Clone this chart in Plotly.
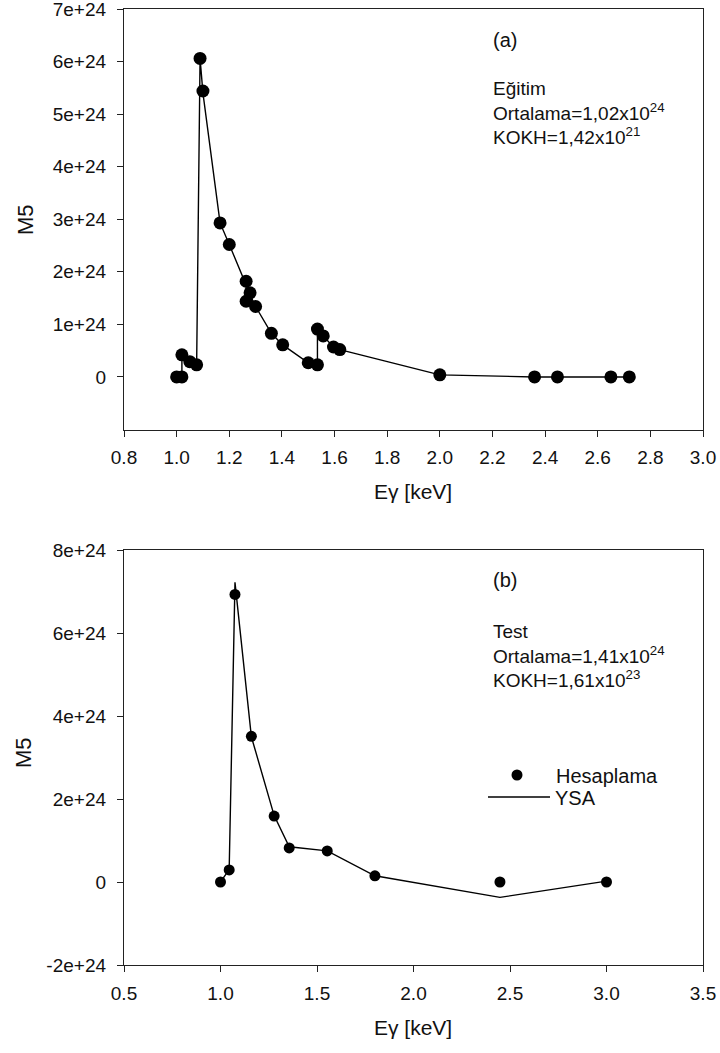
import plotly.graph_objects as go

# ---- Panel (a): Eğitim ----
a_x = [1.0, 1.02, 1.02, 1.05, 1.076, 1.089, 1.10, 1.165, 1.20, 1.264, 1.264, 1.279, 1.30,
       1.36, 1.403, 1.50, 1.535, 1.535, 1.557, 1.596, 1.62, 2.0, 2.36, 2.447, 2.65, 2.72]
a_hes = [0.0, 0.0, 0.42, 0.29, 0.23, 6.06, 5.44, 2.93, 2.52, 1.82, 1.44, 1.60, 1.34,
         0.83, 0.61, 0.27, 0.23, 0.91, 0.78, 0.57, 0.52, 0.04, 0.0, 0.0, 0.0, 0.0]
a_ysa = [0.0, 0.0, 0.40, 0.29, 0.23, 6.06, 5.40, 2.93, 2.52, 1.75, 1.50, 1.56, 1.34,
         0.83, 0.61, 0.27, 0.23, 0.91, 0.78, 0.57, 0.52, 0.04, 0.0, 0.0, 0.0, 0.0]

# ---- Panel (b): Test ----
b_x = [1.0, 1.045, 1.075, 1.16, 1.278, 1.356, 1.553, 1.80, 2.448, 3.0]
b_hes = [0.0, 0.29, 6.93, 3.51, 1.59, 0.82, 0.75, 0.15, 0.0, 0.0]
b_ysa = [0.0, 0.30, 7.22, 3.50, 1.60, 0.85, 0.75, 0.15, -0.37, 0.02]

SCALE = 1e24
a_yticks = [0, 1, 2, 3, 4, 5, 6, 7]
a_yticktext = ["0", "1e+24", "2e+24", "3e+24", "4e+24", "5e+24", "6e+24", "7e+24"]
b_yticks = [-2, 0, 2, 4, 6, 8]
b_yticktext = ["-2e+24", "0", "2e+24", "4e+24", "6e+24", "8e+24"]
a_xticks = [0.8, 1.0, 1.2, 1.4, 1.6, 1.8, 2.0, 2.2, 2.4, 2.6, 2.8, 3.0]
b_xticks = [0.5, 1.0, 1.5, 2.0, 2.5, 3.0, 3.5]

a_label = "(a)"
a_stats = ["Eğitim", "Ortalama=1,02x10<sup>24</sup>", "KOKH=1,42x10<sup>21</sup>"]
b_label = "(b)"
b_stats = ["Test", "Ortalama=1,41x10<sup>24</sup>", "KOKH=1,61x10<sup>23</sup>"]

W, H = 720, 1053
FONT = "Liberation Sans, Arial, sans-serif"

fig = go.Figure()

fig.add_trace(go.Scatter(x=a_x, y=[v * SCALE for v in a_ysa], mode="lines",
                         line=dict(color="black", width=1.4), showlegend=False,
                         xaxis="x", yaxis="y"))
fig.add_trace(go.Scatter(x=a_x, y=[v * SCALE for v in a_hes], mode="markers",
                         marker=dict(color="black", size=13), showlegend=False,
                         xaxis="x", yaxis="y"))
fig.add_trace(go.Scatter(x=b_x, y=[v * SCALE for v in b_hes], mode="markers",
                         marker=dict(color="black", size=11), name="Hesaplama",
                         xaxis="x2", yaxis="y2", legend="legend"))
fig.add_trace(go.Scatter(x=b_x, y=[v * SCALE for v in b_ysa], mode="lines",
                         line=dict(color="black", width=1.4), name="YSA",
                         xaxis="x2", yaxis="y2", legend="legend2"))

def px_x(p):
    return p / W

def px_y(p):
    return 1 - p / H

axis_common = dict(showline=True, linecolor="#222", linewidth=1.3, mirror=True,
                   ticks="outside", ticklen=6, tickcolor="#222", tickwidth=1.2,
                   showgrid=False, zeroline=False, automargin=False,
                   ticklabeloverflow="allow",
                   tickfont=dict(family=FONT, size=19, color="#111"))

leg_common = dict(bgcolor="rgba(0,0,0,0)", font=dict(family=FONT, size=20, color="#111"),
                  xanchor="left", yanchor="middle", tracegroupgap=0)

fig.update_layout(
    width=W, height=H,
    margin=dict(l=0, r=0, t=0, b=0, pad=0, autoexpand=False),
    paper_bgcolor="white", plot_bgcolor="white",
    font=dict(family=FONT, color="#111"),
    xaxis=dict(domain=[px_x(124), px_x(703)], range=[0.8, 3.0], anchor="y",
               tickvals=a_xticks, ticktext=[f"{v:.1f}" for v in a_xticks],
               ticklabelstandoff=5, **axis_common),
    yaxis=dict(domain=[px_y(429.5), px_y(9)], range=[-1 * SCALE, 7 * SCALE], anchor="x",
               tickvals=[v * SCALE for v in a_yticks], ticktext=a_yticktext,
               ticklabelstandoff=7, **axis_common),
    xaxis2=dict(domain=[px_x(124), px_x(703)], range=[0.5, 3.5], anchor="y2",
                tickvals=b_xticks, ticktext=[f"{v:.1f}" for v in b_xticks],
                ticklabelstandoff=5, **axis_common),
    yaxis2=dict(domain=[px_y(965), px_y(550)], range=[-2 * SCALE, 8 * SCALE], anchor="x2",
                tickvals=[v * SCALE for v in b_yticks], ticktext=b_yticktext,
                ticklabelstandoff=7, **axis_common),
    legend=dict(x=px_x(478), y=px_y(775), itemwidth=68, **leg_common),
    legend2=dict(x=px_x(483), y=px_y(797), itemwidth=62, **leg_common),
)

ann_font = dict(family=FONT, size=20, color="#111")
stat_font = dict(family=FONT, size=19, color="#111")
fig.add_annotation(xref="paper", yref="paper", x=px_x(491), y=px_y(40), text=a_label,
                   xanchor="left", yanchor="middle", showarrow=False, font=ann_font)
fig.add_annotation(xref="paper", yref="paper", x=px_x(491), y=px_y(580), text=b_label,
                   xanchor="left", yanchor="middle", showarrow=False, font=ann_font)
fig.add_annotation(xref="paper", yref="paper", x=px_x(491), y=px_y(113), text="<br>".join(a_stats),
                   xanchor="left", yanchor="middle", align="left", showarrow=False, font=stat_font)
fig.add_annotation(xref="paper", yref="paper", x=px_x(491), y=px_y(655.5), text="<br>".join(b_stats),
                   xanchor="left", yanchor="middle", align="left", showarrow=False, font=stat_font)

title_font = dict(family=FONT, size=21, color="#111")
fig.add_annotation(xref="paper", yref="paper", x=px_x(413), y=px_y(491), text="Eγ [keV]",
                   showarrow=False, font=title_font, xanchor="center", yanchor="middle")
fig.add_annotation(xref="paper", yref="paper", x=px_x(413), y=px_y(1027), text="Eγ [keV]",
                   showarrow=False, font=title_font, xanchor="center", yanchor="middle")
fig.add_annotation(xref="paper", yref="paper", x=px_x(25), y=px_y(220), text="M5",
                   showarrow=False, font=dict(family=FONT, size=22, color="#111"),
                   textangle=-90, xanchor="center", yanchor="middle")
fig.add_annotation(xref="paper", yref="paper", x=px_x(23), y=px_y(753), text="M5",
                   showarrow=False, font=dict(family=FONT, size=22, color="#111"),
                   textangle=-90, xanchor="center", yanchor="middle")

fig.write_html("out.html", config={"displayModeBar": False},
               post_script="document.body.style.margin='0';")
